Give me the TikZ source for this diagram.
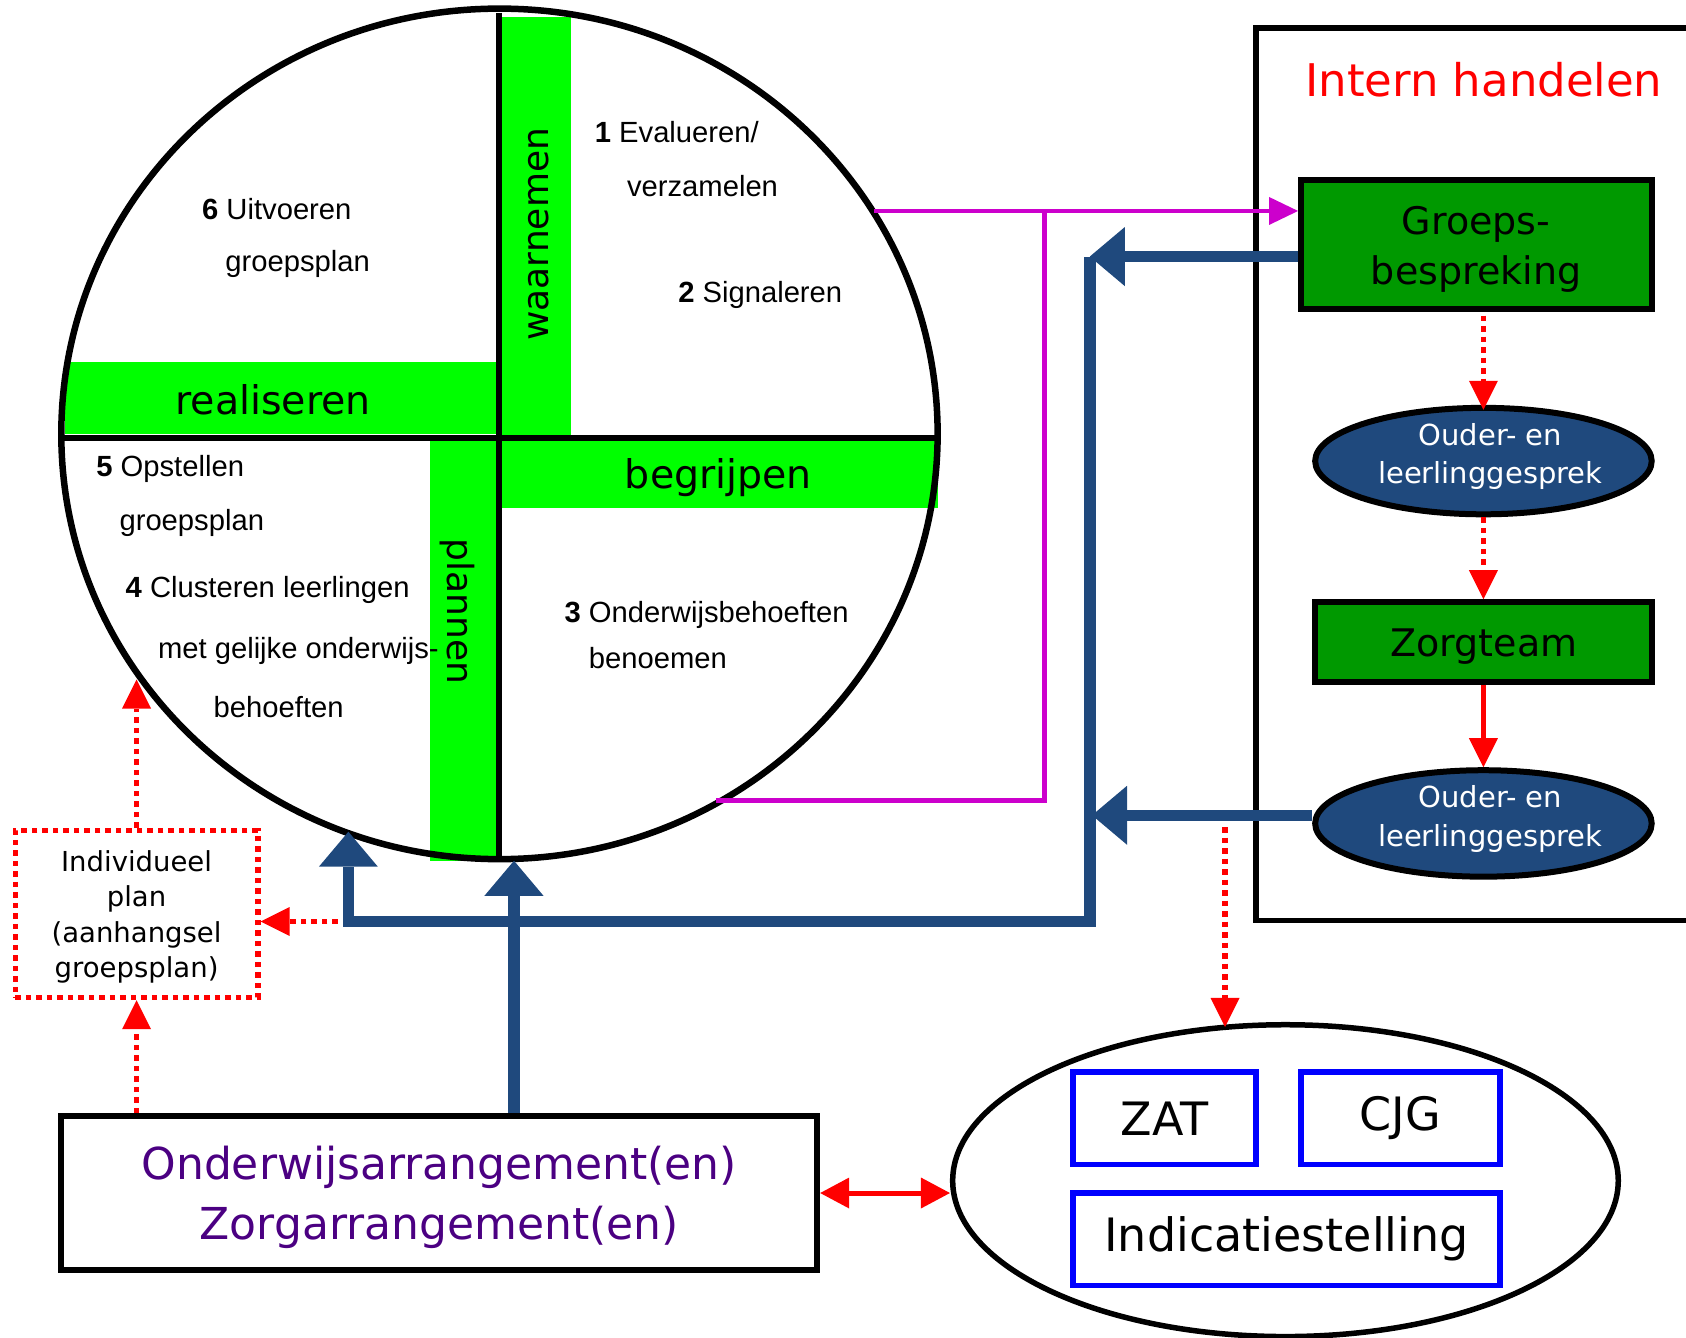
\documentclass[tikz,border=0pt]{standalone}
\usepackage{fontspec}
\setmainfont{Liberation Sans}
\newfontfamily\comicf{DejaVu Sans}
\usetikzlibrary{shapes.geometric,arrows.meta}
\definecolor{lgreen}{HTML}{00FF00}
\definecolor{dkgreen}{HTML}{009900}
\definecolor{ovblue}{HTML}{1F497D}
\definecolor{mag}{HTML}{CC00CC}
\definecolor{pblue}{HTML}{0000FF}
\definecolor{purp}{HTML}{4B0082}
\newcommand\dpx[1]{#1*1.0753pt}
\begin{document}
\begin{tikzpicture}[x=1.0753pt,y=-1.0753pt,
  ctext/.style={anchor=mid west, inner sep=0pt, font=\fontsize{29.2}{34}\selectfont},
  bandlab/.style={inner sep=0pt, font=\comicf\fontsize{39.5}{44}\selectfont},
  vbandlab/.style={inner sep=0pt, font=\comicf\fontsize{36}{40}\selectfont},
  gbox/.style={draw, line width=6pt, fill=dkgreen, inner sep=0pt},
  gtext/.style={inner sep=0pt, align=center, font=\comicf\fontsize{38}{49.5}\selectfont},
  oval/.style={ellipse, draw, line width=6pt, fill=ovblue, inner sep=0pt, minimum width=\dpx{313}, minimum height=\dpx{99}},
  ovtext/.style={text=white, align=center, inner sep=0pt, font=\comicf\fontsize{29}{38.7}\selectfont},
  bbox/.style={draw=pblue, line width=5.5pt, inner sep=0pt, minimum height=\dpx{86}, font=\comicf\fontsize{46}{50}\selectfont},
  rdot/.style={draw=red, line width=5.5pt, dash pattern=on 5.5pt off 5pt, -{Triangle[length=29pt,width=29pt,line width=0pt]}},
  rsolid/.style={draw=red, line width=5pt, -{Triangle[length=29pt,width=29pt,line width=0pt]}},
  rdbl/.style={draw=red, line width=5pt, {Triangle[length=29pt,width=31pt,line width=0pt]}-{Triangle[length=29pt,width=31pt,line width=0pt]}},
  bluearr/.style={draw=ovblue, line width=11.5pt, -{Triangle[length=35pt,width=59pt,line width=0pt]}},
  magarr/.style={draw=mag, line width=4.5pt, -{Triangle[length=29pt,width=28pt,line width=0pt]}},
  magln/.style={draw=mag, line width=4.5pt}
]
\useasboundingbox (0,0) rectangle (1568,1244);

% green bands
\fill[lgreen] (466,16) rectangle (531,405);
\fill[lgreen] (60,337) rectangle (462,404);
\fill[lgreen] (466,408) rectangle (872,472.5);
\fill[lgreen] (400,406) rectangle (462,800.5);

% main circle
\node[ellipse, draw, line width=6.5pt, minimum width=\dpx{815}, minimum height=\dpx{791}, inner sep=0pt] (circ) at (464.5,403.5) {};
\draw[line width=6pt] (464,12) -- (464,798);
\draw[line width=6pt] (57,407) -- (872,407);

% band labels
\node[vbandlab, rotate=90] (waar) at (500.9,217.9) {waarnemen};
\node[bandlab] (real) at (253.9,371.6) {realiseren};
\node[bandlab] (begr) at (668.2,444) {begrijpen};
\node[vbandlab, rotate=-90] (plan) at (425,568.9) {plannen};

% circle texts
\node[ctext] (t1a) at (553,130.5) {{\bfseries 1} Evalueren/};
\node[ctext] (t1b) at (583,180.5) {verzamelen};
\node[ctext] (t2) at (630.6,278.5) {{\bfseries 2} Signaleren};
\node[ctext] (t6a) at (187.8,202) {{\bfseries 6} Uitvoeren};
\node[ctext] (t6b) at (209.4,250.5) {groepsplan};
\node[ctext] (t5a) at (89.4,440.5) {{\bfseries 5} Opstellen};
\node[ctext] (t5b) at (111,490.5) {groepsplan};
\node[ctext] (t4a) at (116.7,553.5) {{\bfseries 4} Clusteren leerlingen};
\node[ctext] (t4b) at (146.8,609.5) {met gelijke onderwijs-};
\node[ctext] (t4c) at (198.6,664.5) {behoeften};
\node[ctext] (t3a) at (524.8,576.5) {{\bfseries 3} Onderwijsbehoeften};
\node[ctext] (t3b) at (547.5,619) {benoemen};

% Intern handelen
\node[draw, line width=5.5pt, minimum width=\dpx{440}, minimum height=\dpx{830}, inner sep=0pt] (intern) at (1388,441) {};
\node[text=red, inner sep=0pt, font=\comicf\fontsize{45}{50}\selectfont] (title) at (1380,74) {Intern handelen};
\node[gbox, minimum width=\dpx{326}, minimum height=\dpx{120}] (groeps) at (1373,227) {};
\node[gtext] (groepst) at (1372.8,232) {Groeps-\\bespreking};
\node[oval] (oval1) at (1379.6,428.8) {};
\node[ovtext] (oval1t) at (1386,424.5) {Ouder- en\\leerlinggesprek};
\node[gbox, minimum width=\dpx{313}, minimum height=\dpx{74}] (zorg) at (1379.6,597) {};
\node[gtext] (zorgt) at (1380,601.5) {Zorgteam};
\node[oval] (oval2) at (1379.6,765.8) {};
\node[ovtext] (oval2t) at (1386,761.5) {Ouder- en\\leerlinggesprek};

% Individueel plan box
\node[draw=red, line width=5.5pt, dash pattern=on 5.5pt off 5pt, minimum width=\dpx{225.6}, minimum height=\dpx{155.3}, inner sep=0pt] (indiv) at (127,850) {};
\node[inner sep=0pt, align=center, font=\comicf\fontsize{27.5}{35.5}\selectfont] (indivt) at (127,852.5) {Individueel\\plan\\(aanhangsel\\groepsplan)};

% Onderwijsarrangement box
\node[draw, line width=6pt, minimum width=\dpx{703}, minimum height=\dpx{143}, inner sep=0pt] (onderw) at (408.5,1109.5) {};
\node[inner sep=0pt, align=center, text=purp, font=\comicf\fontsize{44}{60}\selectfont] (onderwt) at (408.5,1113.5) {Onderwijsarrangement(en)\\Zorgarrangement(en)};

% bottom ellipse
\node[ellipse, draw, line width=5.5pt, minimum width=\dpx{619}, minimum height=\dpx{290}, inner sep=0pt] (bigell) at (1195.5,1098) {};
\node[bbox, minimum width=\dpx{170}] (zat) at (1083,1040) {ZAT};
\node[bbox, minimum width=\dpx{185}] (cjg) at (1302.5,1040) {CJG};
\node[bbox, minimum width=\dpx{397}] (indic) at (1196.5,1152.5) {Indicatiestelling};

% coordinates
\coordinate (m1) at (813,196.2);
\coordinate (mx) at (971.6,196.2);
\coordinate (m2) at (666,744.5);
\coordinate (vtop) at (1013.5,238.6);
\coordinate (vbot) at (1013.5,857);
\coordinate (a2) at (1015.6,758.2);
\coordinate (hleft) at (324,857);
\coordinate (tip1) at (324,773.5);
\coordinate (tip2) at (478,800.5);
\coordinate (tip3) at (127,632);
\coordinate (s4) at (1139.3,769.2);
\coordinate (tip4) at (1139.3,955);

% magenta connectors
\draw[magarr] (m1) -- (m1 -| groeps.west);
\draw[magln] (mx) |- (m2);

% red connectors
\draw[rdot, shorten <=4pt] (groeps.south -| oval1.north) -- ([yshift=-5pt]oval1.north);
\draw[rdot] (oval1.south) -- (zorg.north);
\draw[rsolid] (zorg.south) -- (oval2.north);
\draw[rdot] (hleft) -- (hleft -| indiv.east);
\draw[rdot] (indiv.north) -- (tip3);
\draw[rdot] (onderw.north -| indiv.south) -- (indiv.south);
\draw[rdot] (s4) -- (tip4);
\draw[rdbl] (onderw.east) -- (onderw.east -| bigell.west);

% blue connectors
\draw[bluearr] (groeps.west |- vtop) -- (vtop);
\draw[bluearr] (oval2.west |- a2) -- (a2);
\draw[bluearr, line join=miter] (vtop) -- (vbot) -- (hleft) -- (tip1);
\draw[bluearr] (onderw.north -| tip2) -- (tip2);
\end{tikzpicture}
\end{document}
